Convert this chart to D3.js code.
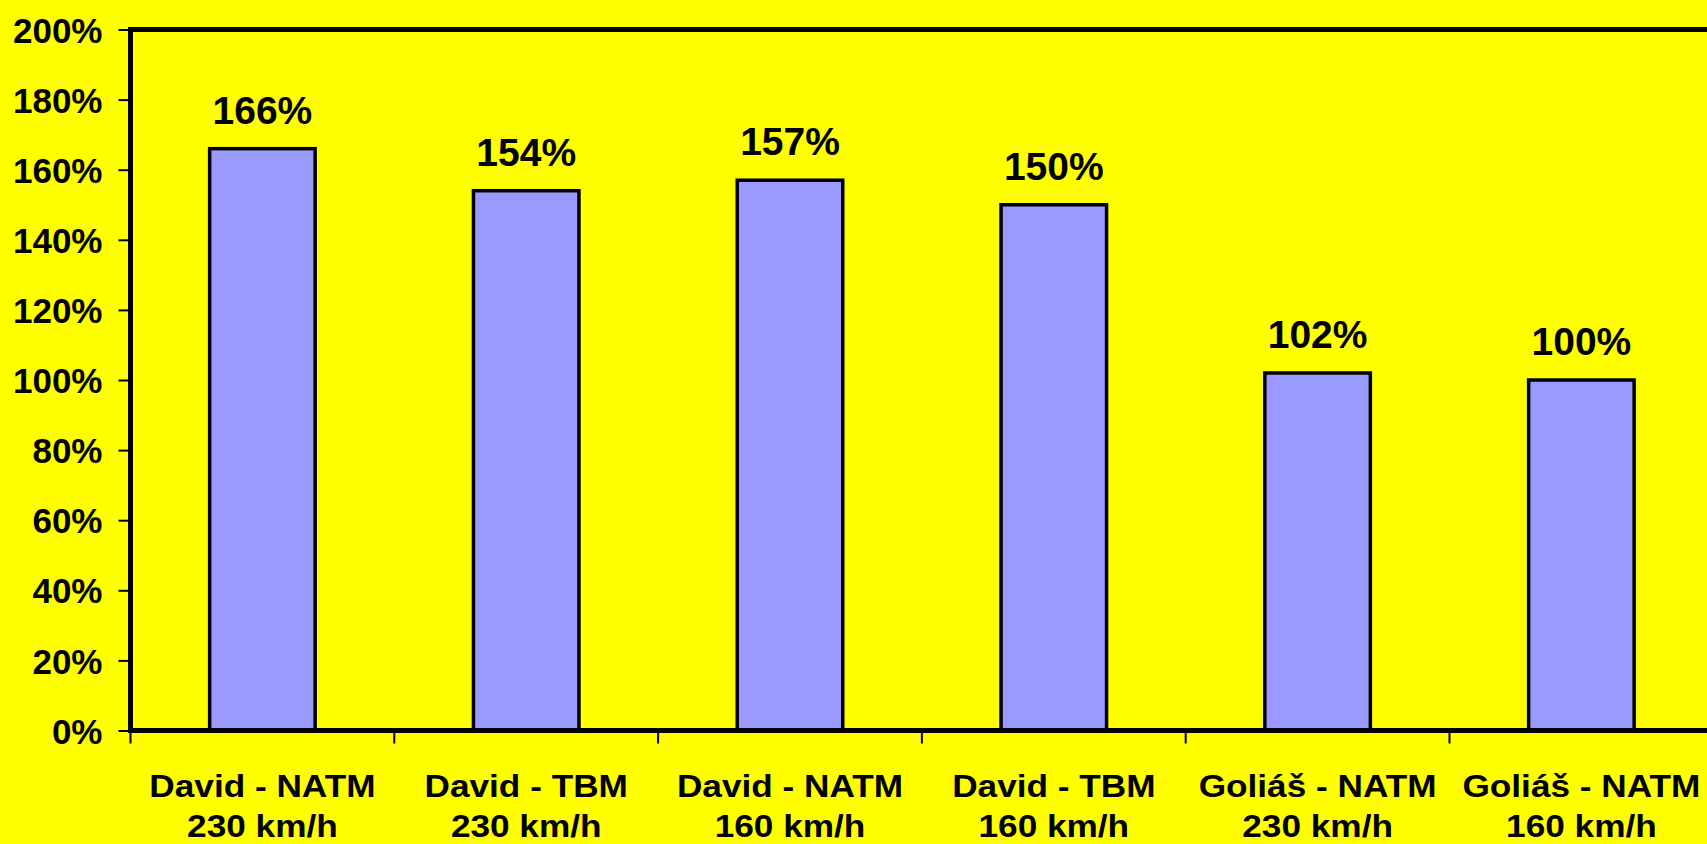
<!DOCTYPE html>
<html>
<head>
<meta charset="utf-8">
<script src="https://cdn.jsdelivr.net/npm/d3@7"></script>
<style>
  html, body { margin: 0; padding: 0; background: #ffff00; overflow: hidden; }
  svg { display: block; }
  text { font-family: "Liberation Sans", Arial, sans-serif; font-weight: bold; fill: #000; }
</style>
</head>
<body>
<svg id="chart" width="1707" height="844"></svg>
<script>
// Relative cost of each tunnel variant
const categories = [
  ["David - NATM", "230 km/h"],
  ["David - TBM", "230 km/h"],
  ["David - NATM", "160 km/h"],
  ["David - TBM", "160 km/h"],
  ["Goliáš - NATM", "230 km/h"],
  ["Goliáš - NATM", "160 km/h"]
];
const values = [166, 154, 157, 150, 102, 100];
const yTicks = [0, 20, 40, 60, 80, 100, 120, 140, 160, 180, 200];

const svg = d3.select("#chart");
const W = 1707, H = 844;
const plotLeft = 130.5, plotTop = 29.5, plotBottom = 730.5;
const step = 263.8;
const keys = categories.map(c => c.join(" "));

const x = d3.scaleBand()
  .domain(keys)
  .range([plotLeft, plotLeft + step * keys.length])
  .paddingInner(0.6)
  .paddingOuter(0.3);

const y = d3.scaleLinear().domain([0, 200]).range([plotBottom, plotTop]);

// Bars
svg.append("g").selectAll("rect")
  .data(values)
  .join("rect")
  .attr("x", (d, i) => x(keys[i]))
  .attr("y", d => y(d))
  .attr("width", x.bandwidth())
  .attr("height", d => y(0) - y(d))
  .attr("fill", "#9999ff")
  .attr("stroke", "#000")
  .attr("stroke-width", 3.5);

// Value labels
svg.append("g").selectAll("text")
  .data(values)
  .join("text")
  .attr("x", (d, i) => x(keys[i]) + x.bandwidth() / 2)
  .attr("y", d => y(d) - 25)
  .attr("text-anchor", "middle")
  .style("font-size", "39px")
  .text(d => d + "%");

// Y axis
const yAxis = svg.append("g")
  .attr("transform", `translate(${plotLeft},0)`)
  .call(d3.axisLeft(y).tickValues(yTicks).tickFormat(d => d + "%").tickSize(12).tickSizeOuter(0).tickPadding(16));
yAxis.select(".domain").remove();
yAxis.selectAll(".tick line").attr("stroke", "#000").attr("stroke-width", 2);
yAxis.selectAll(".tick text").style("font-size", "35px").attr("fill", "#000").attr("dy", "0.36em");

// X axis ticks at category boundaries
const bounds = keys.map(k => x(k) + x.bandwidth() / 2 - x.step() / 2);
svg.append("g").selectAll("line")
  .data(bounds)
  .join("line")
  .attr("x1", d => d).attr("x2", d => d)
  .attr("y1", plotBottom).attr("y2", plotBottom + 13)
  .attr("stroke", "#000").attr("stroke-width", 2);

// Category labels (two lines, slightly widened type)
const cat = svg.append("g").selectAll("text")
  .data(categories)
  .join("text")
  .attr("transform", (d, i) => `translate(${x(keys[i]) + x.bandwidth() / 2},797) scale(1.1,1)`)
  .attr("text-anchor", "middle")
  .style("font-size", "32px");
cat.append("tspan").attr("x", 0).text(d => d[0]);
cat.append("tspan")
  .attr("x", 0)
  .attr("dy", 40)
  .text(d => d[1]);

// Plot frame: left axis, top border, baseline
const frame = svg.append("g").attr("stroke", "#000").attr("stroke-width", 5).attr("fill", "none");
frame.append("line").attr("x1", plotLeft).attr("x2", plotLeft).attr("y1", plotTop - 2.5).attr("y2", plotBottom + 2.5);
frame.append("line").attr("x1", plotLeft - 2.5).attr("x2", W + 10).attr("y1", plotTop).attr("y2", plotTop);
frame.append("line").attr("x1", plotLeft - 2.5).attr("x2", W + 10).attr("y1", plotBottom).attr("y2", plotBottom);
</script>
</body>
</html>
